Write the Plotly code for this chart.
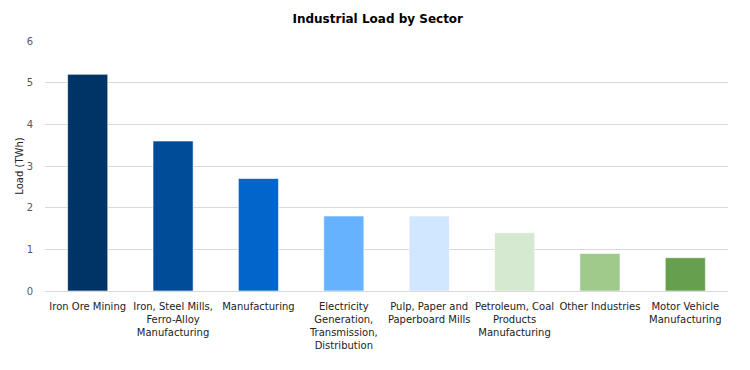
import plotly.graph_objects as go

categories = [
    "Iron Ore Mining",
    "Iron, Steel Mills,<br>Ferro-Alloy<br>Manufacturing",
    "Manufacturing",
    "Electricity<br>Generation,<br>Transmission,<br>Distribution",
    "Pulp, Paper and<br>Paperboard Mills",
    "Petroleum, Coal<br>Products<br>Manufacturing",
    "Other Industries",
    "Motor Vehicle<br>Manufacturing",
]
values = [5.2, 3.6, 2.7, 1.8, 1.8, 1.4, 0.9, 0.8]
colors = ["#003366", "#004C99", "#0066CC", "#66B2FF", "#D1E6FF", "#D5E8D0", "#A0C98C", "#66A04E"]
y_ticks = [0, 1, 2, 3, 4, 5, 6]

fig = go.Figure(
    go.Bar(
        x=categories,
        y=values,
        marker=dict(color=colors, line=dict(color="rgba(255,255,255,0.6)", width=1)),
        width=0.47,
    )
)

# The page body has an 8px default margin, so margins compensate for it.
fig.update_layout(
    width=750,
    height=370,
    paper_bgcolor="white",
    plot_bgcolor="white",
    font=dict(family="DejaVu Sans", size=10, color="#222222"),
    title=dict(
        text="<b>Industrial Load by Sector</b>",
        x=0.493,
        xanchor="center",
        y=0.97,
        yanchor="middle",
        font=dict(family="DejaVu Sans", size=12, color="#000000"),
    ),
    margin=dict(l=37, r=30, t=33, b=87, autoexpand=False),
    showlegend=False,
    xaxis=dict(
        showgrid=False,
        showline=False,
        ticks="",
        automargin=False,
        ticklabelstandoff=8,
        tickfont=dict(size=10, color="#222222"),
    ),
    yaxis=dict(
        range=[0, 6],
        tickvals=y_ticks,
        automargin=False,
        showgrid=True,
        gridcolor="#D9D9D9",
        gridwidth=1,
        zeroline=True,
        zerolinecolor="#D9D9D9",
        zerolinewidth=1,
        tickfont=dict(size=10, color="#595959"),
        ticklabelstandoff=11,
        title=dict(text="Load (TWh)", font=dict(size=10, color="#222222"), standoff=1),
    ),
)

fig.write_html("out.html")
